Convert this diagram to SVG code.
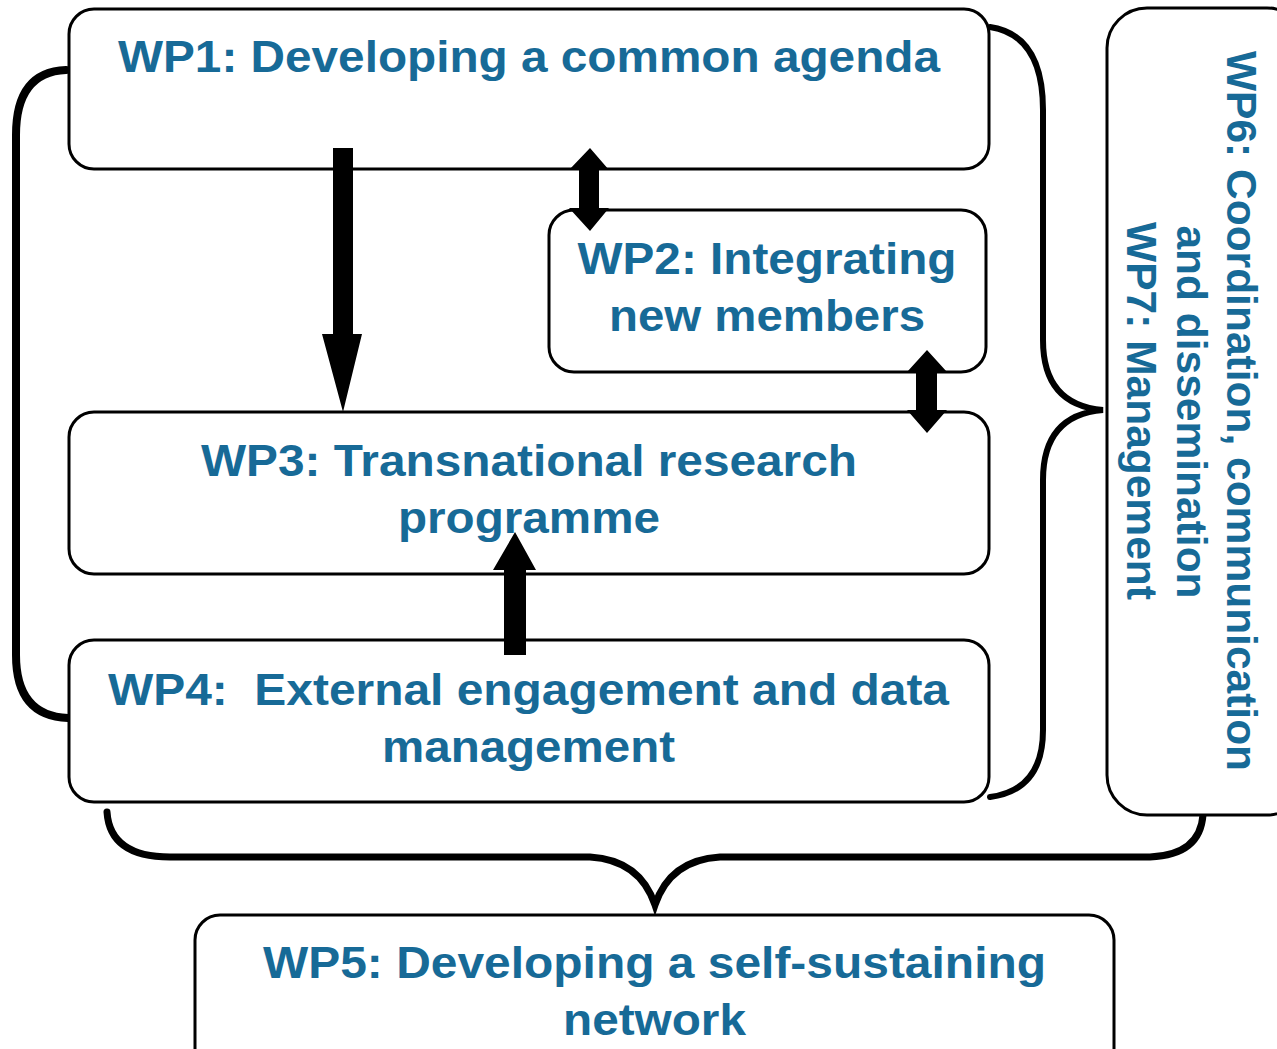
<svg xmlns="http://www.w3.org/2000/svg" width="1277" height="1049" viewBox="0 0 1277 1049">
<style>
.box{fill:#fff;stroke:#000;stroke-width:3}
.t{font-family:"Liberation Sans",Arial,sans-serif;font-weight:bold;font-size:44px;fill:#176a97;text-anchor:middle;white-space:pre}
.v{font-size:42.5px}
.br{fill:none;stroke:#000;stroke-linecap:round}
.ar{fill:#000}
</style>
<rect width="1277" height="1049" fill="#fff"/>
<g id="connectors">
<path class="br" stroke-width="8" d="M66 70 Q16 72 16 135 L16 655 Q16 716 68 718"/>
<path class="br" stroke-width="6" d="M990 27 Q1043 35 1043 110 L1043 340 Q1043 405 1103 410 Q1043 415 1043 480 L1043 730 Q1043 790 990 797"/>
<path class="br" stroke-width="7" d="M107 812 Q110 857 170 857 L590 857 Q640 860 655 905 Q670 860 720 857 L1150 857 Q1200 855 1203 815"/>
</g>
<g id="wp1"><rect class="box" x="69" y="9" width="920" height="160" rx="25"/><text class="t" x="529" y="72" textLength="822" lengthAdjust="spacingAndGlyphs">WP1: Developing a common agenda</text></g>
<g id="wp2"><rect class="box" x="549" y="210" width="437" height="162" rx="25"/><text class="t" x="767" y="274" textLength="379" lengthAdjust="spacingAndGlyphs">WP2: Integrating</text><text class="t" x="767" y="331" textLength="316" lengthAdjust="spacingAndGlyphs">new members</text></g>
<g id="wp3"><rect class="box" x="69" y="412" width="920" height="162" rx="25"/><text class="t" x="529" y="476" textLength="656" lengthAdjust="spacingAndGlyphs">WP3: Transnational research</text><text class="t" x="529" y="533" textLength="262" lengthAdjust="spacingAndGlyphs">programme</text></g>
<g id="wp4"><rect class="box" x="69" y="640" width="920" height="162" rx="25"/><text class="t" x="528.5" y="705" textLength="841" lengthAdjust="spacingAndGlyphs">WP4:  External engagement and data</text><text class="t" x="528.5" y="762" textLength="293" lengthAdjust="spacingAndGlyphs">management</text></g>
<g id="wp5"><rect class="box" x="195" y="915" width="919" height="160" rx="25"/><text class="t" x="654.5" y="978" textLength="783" lengthAdjust="spacingAndGlyphs">WP5: Developing a self-sustaining</text><text class="t" x="654.5" y="1035" textLength="183" lengthAdjust="spacingAndGlyphs">network</text></g>
<g id="wp67"><rect class="box" x="1107" y="8" width="200" height="807" rx="40"/>
<text class="t v" transform="translate(1227,411) rotate(90)">WP6: Coordination, communication</text>
<text class="t v" transform="translate(1177,412) rotate(90)">and dissemination</text>
<text class="t v" transform="translate(1127,411) rotate(90)">WP7: Management</text></g>
<g id="arrows">
<polygon class="ar" points="333,148 353,148 353,334 362,334 343,412 322,334 333,334"/>
<polygon class="ar" points="590,148 609,170 599,170 599,208 609,208 590,231 569,208 579,208 579,170 569,170"/>
<polygon class="ar" points="927,350 947,372 937,372 937,410 947,410 927,433 907,410 916,410 916,372 907,372"/>
<polygon class="ar" points="515,532 536,570 526,570 526,655 504,655 504,570 493,570"/>
</g>
</svg>
